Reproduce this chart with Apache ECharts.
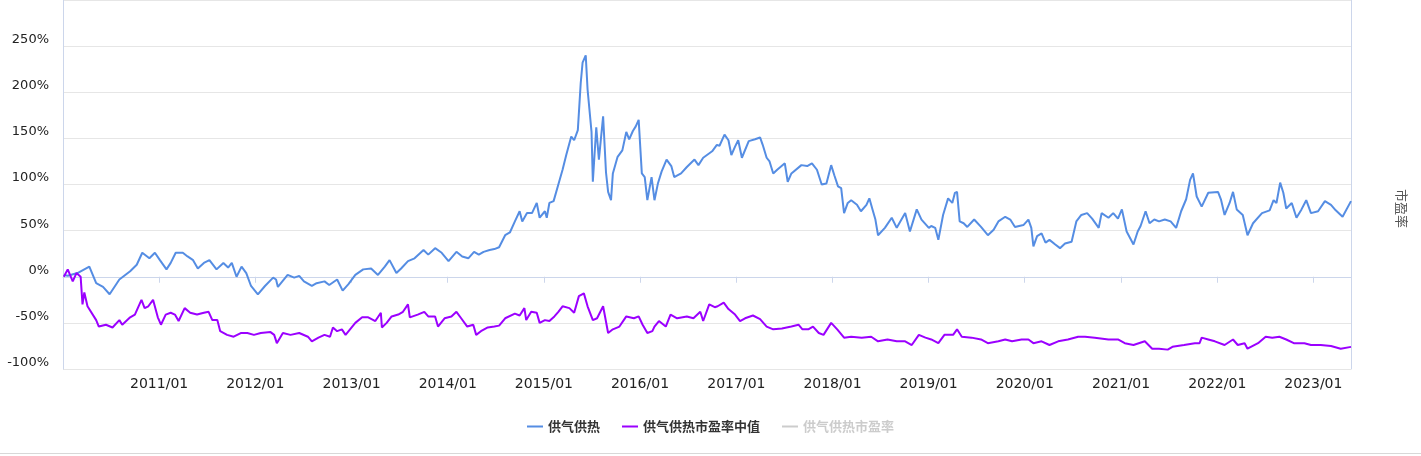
<!DOCTYPE html>
<html>
<head>
<meta charset="utf-8">
<script src="https://cdn.jsdelivr.net/npm/echarts@6/dist/echarts.min.js"></script>
<style>
html,body{margin:0;padding:0;background:#fff;}
#c{width:1421px;height:453px;border-bottom:1px solid #d8d8d8;}
</style>
</head>
<body>
<div id="c"></div>
<script>
const seriesNames = ['供气供热', '供气供热市盈率中值', '供气供热市盈率'];
const yTickLabels = ['-100%', '-50%', '0%', '50%', '100%', '150%', '200%', '250%'];

const blueDates = ['2010-01-04','2010-01-19','2010-02-25','2010-04-11','2010-05-07','2010-06-02','2010-06-27','2010-08-03','2010-09-13','2010-10-08','2010-10-29','2010-11-25','2010-12-16',
'2011-01-04','2011-01-29','2011-02-14','2011-03-05','2011-04-01','2011-04-19','2011-05-10','2011-05-28','2011-06-20','2011-07-11','2011-08-07','2011-09-02','2011-09-20','2011-10-04','2011-10-22','2011-11-10','2011-11-28','2011-12-16',
'2012-01-11','2012-02-07','2012-03-09','2012-03-20','2012-03-27','2012-05-03','2012-05-28','2012-06-16','2012-07-04','2012-08-03','2012-08-21','2012-09-20','2012-10-08','2012-11-07','2012-11-28','2012-12-20',
'2013-01-15','2013-02-14','2013-03-16','2013-04-11','2013-05-07','2013-05-25','2013-06-20','2013-07-08','2013-08-03','2013-08-28','2013-10-01','2013-10-19','2013-11-14','2013-12-09',
'2014-01-04','2014-02-03','2014-02-25','2014-03-20','2014-04-11','2014-04-29','2014-05-17','2014-06-09','2014-06-27','2014-07-15','2014-08-07','2014-08-25','2014-09-13','2014-10-01','2014-10-11','2014-10-29','2014-11-17','2014-12-05','2014-12-16',
'2015-01-05','2015-01-12','2015-01-22','2015-02-07','2015-02-25','2015-03-13','2015-03-27','2015-04-15','2015-04-26','2015-05-10','2015-05-21','2015-05-28','2015-06-09','2015-06-16','2015-07-01','2015-07-06','2015-07-19','2015-07-29','2015-08-14','2015-08-25','2015-09-02','2015-09-13','2015-09-20','2015-10-08','2015-10-26','2015-11-10','2015-11-21','2015-12-05','2015-12-16','2015-12-27',
'2016-01-08','2016-01-19','2016-01-29','2016-02-14','2016-02-25','2016-03-09','2016-03-23','2016-04-11','2016-04-29','2016-05-10','2016-06-05','2016-06-27','2016-07-26','2016-08-10','2016-08-28','2016-10-01','2016-10-19','2016-10-29','2016-11-17','2016-12-02','2016-12-13','2016-12-27',
'2017-01-08','2017-01-22','2017-02-17','2017-03-13','2017-04-01','2017-04-11','2017-04-26','2017-05-07','2017-05-21','2017-06-05','2017-07-04','2017-07-15','2017-07-29','2017-09-05','2017-09-27','2017-10-15','2017-11-03','2017-11-21','2017-12-09','2017-12-27',
'2018-01-08','2018-01-22','2018-02-03','2018-02-14','2018-02-28','2018-03-13','2018-04-04','2018-04-19','2018-05-10','2018-05-21','2018-06-02','2018-06-13','2018-06-23','2018-07-19','2018-08-14','2018-09-02','2018-10-04','2018-10-22','2018-11-17','2018-12-05',
'2019-01-02','2019-01-11','2019-01-26','2019-02-07','2019-02-25','2019-03-16','2019-04-01','2019-04-11','2019-04-19','2019-04-29','2019-05-14','2019-05-28','2019-06-23','2019-07-19','2019-08-14','2019-09-05','2019-09-23','2019-10-19','2019-11-07','2019-11-25','2019-12-27',
'2020-01-15','2020-01-26','2020-02-03','2020-02-17','2020-03-05','2020-03-20','2020-04-04','2020-04-26','2020-05-14','2020-06-02','2020-06-27','2020-07-15','2020-08-03','2020-08-25','2020-09-13','2020-10-08','2020-10-19','2020-11-14','2020-12-02','2020-12-20',
'2021-01-04','2021-01-22','2021-02-17','2021-03-05','2021-03-16','2021-04-04','2021-04-19','2021-05-07','2021-05-25','2021-06-16','2021-07-08','2021-07-29','2021-08-17','2021-09-05','2021-09-20','2021-10-01','2021-10-15','2021-11-03','2021-11-28',
'2022-01-04','2022-01-15','2022-01-29','2022-02-17','2022-03-02','2022-03-16','2022-04-08','2022-04-26','2022-05-17','2022-06-20','2022-07-19','2022-08-03','2022-08-14','2022-08-28','2022-09-09','2022-09-20','2022-10-11','2022-10-29','2022-11-17','2022-12-05','2022-12-23',
'2023-01-19','2023-02-14','2023-03-09','2023-03-27','2023-04-22','2023-05-24'];
const blueValues = [2,1,4,11,-7,-11,-19,-3,6,13,26,20,26,
18,8,15,26,26,22,18,9,15,18,8,15,10,15,0,11,4,-10,
-19,-10,-1,-3,-11,2,-1,1,-5,-10,-7,-5,-9,-3,-15,-8,
2,8,9,2,11,18,4,9,17,20,29,24,31,26,
17,27,22,20,27,24,27,29,30,32,45,48,60,71,60,69,69,80,64,
71,64,80,82,100,116,132,152,148,159,210,232,240,203,157,103,162,127,174,113,92,83,112,130,137,157,149,158,163,170,
112,108,83,108,83,101,114,127,120,108,112,119,127,121,129,136,143,142,154,148,132,141,
148,129,147,149,151,143,129,125,112,116,123,103,112,121,120,123,116,100,101,121,
110,98,96,69,80,83,78,71,78,85,73,62,45,53,64,53,69,49,73,62,
53,55,53,40,67,85,80,91,92,60,58,54,62,54,45,51,60,65,62,54,56,
62,53,33,44,47,37,40,35,31,36,38,60,67,69,63,53,69,64,69,63,
73,49,35,49,55,71,58,62,60,62,60,53,71,84,105,112,87,76,91,
92,84,67,80,92,73,67,45,58,69,72,83,80,102,91,74,80,64,73,83,69,
71,82,78,72,65,82];

const purpleDates = ['2010-01-04','2010-01-19','2010-02-07','2010-02-21','2010-03-09','2010-03-16','2010-03-23','2010-04-04','2010-05-07','2010-05-17','2010-06-13','2010-07-08','2010-08-03','2010-08-14','2010-09-13','2010-10-01','2010-10-26','2010-11-07','2010-11-21','2010-12-09','2010-12-27',
'2011-01-08','2011-01-26','2011-02-14','2011-03-02','2011-03-16','2011-04-08','2011-04-29','2011-05-25','2011-06-20','2011-07-08','2011-07-22','2011-08-10','2011-08-21','2011-09-16','2011-10-11','2011-11-07','2011-12-02','2011-12-27',
'2012-01-22','2012-02-28','2012-03-13','2012-03-23','2012-04-15','2012-05-14','2012-06-16','2012-07-19','2012-08-03','2012-08-28','2012-09-20','2012-10-11','2012-10-22','2012-11-07','2012-11-25','2012-12-09',
'2013-01-15','2013-02-10','2013-03-05','2013-04-01','2013-04-22','2013-04-26','2013-05-14','2013-06-02','2013-06-27','2013-07-15','2013-08-03','2013-08-10','2013-09-09','2013-10-04','2013-10-19','2013-11-14','2013-11-25','2013-12-20',
'2014-01-15','2014-02-03','2014-02-21','2014-03-16','2014-04-08','2014-04-19','2014-05-07','2014-06-02','2014-06-27','2014-07-15','2014-08-07','2014-09-13','2014-10-01','2014-10-19','2014-10-26','2014-11-14','2014-12-05','2014-12-16',
'2015-01-05','2015-01-22','2015-02-10','2015-02-25','2015-03-13','2015-04-08','2015-04-26','2015-05-14','2015-06-02','2015-06-16','2015-07-06','2015-07-22','2015-08-14','2015-09-02','2015-09-20','2015-10-15','2015-11-10','2015-12-09','2015-12-27',
'2016-01-11','2016-01-29','2016-02-17','2016-02-25','2016-03-13','2016-04-08','2016-04-26','2016-05-21','2016-06-27','2016-07-22','2016-08-17','2016-08-28','2016-09-20','2016-10-11','2016-10-22','2016-11-14','2016-12-02','2016-12-27',
'2017-01-15','2017-02-03','2017-03-05','2017-04-01','2017-04-26','2017-05-21','2017-06-23','2017-07-29','2017-08-25','2017-09-09','2017-10-01','2017-10-19','2017-11-10','2017-11-28','2017-12-27',
'2018-01-19','2018-02-14','2018-03-13','2018-04-22','2018-05-28','2018-06-23','2018-07-29','2018-09-02','2018-10-04','2018-10-29','2018-11-25','2018-12-20',
'2019-01-11','2019-02-07','2019-03-02','2019-04-04','2019-04-19','2019-05-07','2019-06-13','2019-07-19','2019-08-14','2019-09-23','2019-10-19','2019-11-14','2019-12-20',
'2020-01-15','2020-02-03','2020-03-05','2020-04-04','2020-05-07','2020-06-13','2020-07-22','2020-08-17','2020-09-23','2020-11-14','2020-12-20',
'2021-01-15','2021-02-17','2021-04-01','2021-04-29','2021-05-25','2021-06-27','2021-07-15','2021-08-28','2021-10-08','2021-10-26','2021-11-03','2021-11-28','2021-12-23',
'2022-01-29','2022-03-02','2022-03-20','2022-04-15','2022-04-26','2022-06-05','2022-07-04','2022-07-29','2022-08-25','2022-09-20','2022-10-19','2022-11-28','2022-12-23',
'2023-01-29','2023-03-09','2023-04-15','2023-05-24'];
const purpleValues = [0,8,-5,4,0,-30,-17,-32,-47,-54,-52,-55,-47,-52,-44,-41,-25,-34,-32,-25,-44,
-52,-41,-39,-41,-48,-34,-39,-41,-39,-38,-47,-47,-59,-63,-65,-61,-61,-63,
-61,-60,-63,-72,-61,-63,-61,-65,-70,-66,-63,-65,-55,-59,-57,-63,
-50,-44,-44,-48,-39,-55,-50,-43,-41,-38,-30,-44,-41,-38,-43,-43,-54,-45,
-43,-38,-45,-54,-52,-63,-59,-55,-54,-53,-45,-40,-42,-34,-47,-38,-39,-50,
-47,-48,-43,-38,-32,-34,-39,-21,-18,-32,-47,-45,-32,-61,-57,-54,-43,-45,-43,
-52,-61,-59,-54,-48,-54,-41,-45,-43,-45,-38,-48,-30,-33,-32,-28,-35,-41,
-48,-45,-42,-46,-54,-57,-56,-54,-52,-57,-57,-54,-61,-63,-50,
-57,-66,-65,-66,-65,-70,-68,-70,-70,-74,-63,-66,
-68,-72,-63,-63,-57,-65,-66,-68,-72,-70,-68,-70,-68,
-68,-72,-70,-74,-70,-68,-65,-65,-66,-68,-68,
-72,-74,-70,-78,-78,-79,-76,-74,-72,-72,-66,-68,-70,
-74,-68,-74,-72,-78,-72,-65,-66,-65,-68,-72,-72,-74,
-74,-75,-78,-76];

const peDates = [];
const peValues = [];

function pairs(d, v) { return d.map((x, i) => [x, v[i]]); }

const chart = echarts.init(document.getElementById('c'));
const axisLineColor = '#ccd6eb';
chart.setOption({
  animation: false,
  color: ['#558de3', '#9b00ff', '#7cb5ec'],
  grid: { left: 63, right: 70, top: 0, bottom: 84, containLabel: false },
  legend: {
    data: seriesNames,
    bottom: 15,
    left: 'center',
    icon: 'rect',
    itemWidth: 16,
    itemHeight: 2,
    itemGap: 22,
    selected: { '供气供热市盈率': false },
    inactiveColor: '#cccccc',
    textStyle: { fontSize: 13, fontWeight: 'bold', color: '#333', fontFamily: 'Noto Sans CJK SC' }
  },
  xAxis: {
    type: 'time',
    min: '2010-01-01',
    max: '2023-05-24',
    minInterval: 365 * 24 * 3600 * 1000,
    maxInterval: 366 * 24 * 3600 * 1000,
    splitLine: { show: false },
    axisLine: { show: true, lineStyle: { color: axisLineColor } },
    axisTick: { show: true, length: 6, lineStyle: { color: axisLineColor } },
    axisLabel: {
      formatter: function (val) {
        const d = new Date(val);
        if (d.getFullYear() < 2011) return '';
        return d.getFullYear() + '/' + String(d.getMonth() + 1).padStart(2, '0');
      },
      color: '#222',
      fontSize: 14,
      margin: 8,
      fontFamily: 'DejaVu Sans'
    }
  },
  yAxis: [{
    type: 'value',
    min: -100,
    max: 300,
    interval: 50,
    axisLine: { show: true, lineStyle: { color: axisLineColor } },
    axisTick: { show: false },
    splitLine: { lineStyle: { color: '#e6e6e6' } },
    axisLabel: {
      formatter: v => yTickLabels[(v + 100) / 50] || '',
      showMaxLabel: false,
      verticalAlign: 'bottom',
      margin: 14,
      color: '#222',
      fontSize: 13,
      fontFamily: 'DejaVu Sans'
    }
  }, {
    type: 'value',
    position: 'right',
    name: '市盈率',
    nameLocation: 'middle',
    nameRotate: -90,
    nameGap: 44,
    nameTextStyle: { color: '#555', fontSize: 13, fontFamily: 'Noto Sans CJK SC', padding: [0, 0, 0, 48] },
    axisLine: { show: true, lineStyle: { color: axisLineColor } },
    axisTick: { show: false },
    axisLabel: { show: false },
    splitLine: { show: false }
  }],
  series: [{
    name: seriesNames[0], type: 'line', yAxisIndex: 0, symbol: 'none',
    lineStyle: { width: 2 }, data: pairs(blueDates, blueValues)
  }, {
    name: seriesNames[1], type: 'line', yAxisIndex: 0, symbol: 'none',
    lineStyle: { width: 2 }, data: pairs(purpleDates, purpleValues)
  }, {
    name: seriesNames[2], type: 'line', yAxisIndex: 1, symbol: 'none',
    lineStyle: { width: 2 }, data: pairs(peDates, peValues)
  }]
});
</script>
</body>
</html>
